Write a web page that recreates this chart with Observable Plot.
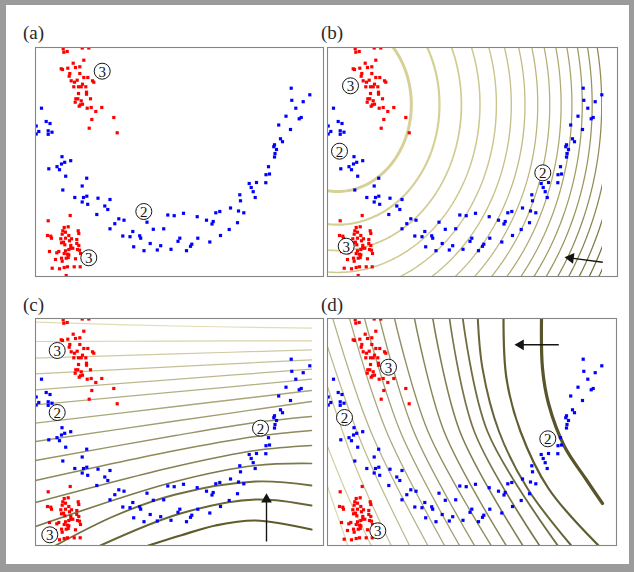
<!DOCTYPE html>
<html><head><meta charset="utf-8">
<script src="https://cdn.jsdelivr.net/npm/d3@7"></script>
<script src="https://cdn.jsdelivr.net/npm/@observablehq/plot@0.6"></script>
<style>
html,body{margin:0;padding:0;background:#fff;}
#fig{position:relative;width:634px;height:572px;background:#fff;overflow:hidden;}
#border{position:absolute;left:0;top:0;width:634px;height:572px;box-sizing:border-box;border-style:solid;border-color:#9b9b9b;border-width:5px 5px 8px 6px;pointer-events:none;}
.lab{position:absolute;font-family:"Liberation Serif","DejaVu Serif",serif;font-size:19px;line-height:1;color:#2a2a2a;}
.panel{position:absolute;}
.panel svg{overflow:visible;}
</style></head><body><div id="fig"><div id="border"></div></div>
<script>
// ---------- data (panel units: x to the right, y downward from the frame top) ----------
const blue = [[6,60.7],[0.7,78.5],[10.7,74],[14.5,76],[3.3,84],[0.7,86.5],[12.7,83.3],[12.7,86.8],[16.5,84.7],
[26.5,109.2],[21.5,119.2],[24,122.2],[26,116.5],[29.2,114.8],[35.2,113.2],[13.3,121.3],[30.2,128.7],[51.2,130.7],[46.7,138.5],[27.3,142.5],
[39.3,150],[48,150],[51.3,148.7],[46.7,154.5],[52.2,156.8],[62.5,150.7],[74.5,152],[69.3,158.5],[72.3,162],[61.3,167],
[83.3,171.3],[88.5,172.7],[79.3,176.2],[74.5,181.3],[97.3,184],[87.3,188.5],[94.5,189.2],[104.2,188.3],[105.2,190.7],
[111.5,174.7],[117.8,181.8],[128.2,181.3],[114.7,196],[125.2,198.2],[98.2,199.3],[108.5,203.2],[121.8,202.5],
[132.3,167.5],[138.7,168.2],[148,165.8],[161.7,169.2],[171,172.7],[177.7,174],[176.5,176.5],[180.3,165.3],[184.3,164],
[193.7,182],[185,188],[162.3,190.7],[144.3,190.7],[142.5,193.8],[156.3,196.7],[155,198.8],[174.3,194.5],[135.5,201.8],[151,203.2],
[195,160.5],[203,163.5],[208.3,165.3],[202,175.2],
[204.3,147.3],[205,153.3],[213.7,136],[215.7,140],[221,135],[217.7,144.2],[219.7,150],[230.3,135.2],[230.5,127.2],[234,126.5],[233,119.2],
[239,109.5],[239.5,106],[241,102],[238.3,99.2],[239,97.3],[245,91.3],[247,94.2],[243.2,77.5],[255,82],[250.5,68.7],[265.7,70],[263.7,71.3],[260.3,60.7],[256.3,52.8],[267.7,54.2],[274.3,47.3],[255.7,40.7]];

const red = [[27.7,1.3],[31.7,4],[28.3,4.7],[46.7,0.5],[53.3,0.5],[48.3,12.7],[37.7,15.7],[25.7,21.3],[27,22],[32.3,20.7],[40,20],[44.3,19.3],[34.3,26],[33.7,28.7],[44.3,26],[48.3,30],[35.7,33.3],[39,34.7],[41.7,32.7],[47,36.7],[52.3,30],[57,33.3],[58.3,34.7],[38.3,39.3],[43,39.3],[45.7,39.3],[50.3,39.3],[51,44.7],[51,46.7],[43,46],[40.3,51.3],[42.3,51.3],[39.7,54.7],[45.7,53.3],[45,57.3],[43.7,58.7],[47,56.7],[55,51.3],[51.7,60.7],[55.7,60],[66.3,60],[60.3,64],[56.3,72],[78.3,70],[53.7,80.7],[81.7,85.3],
[12.7,173.3],[34.7,168],[28.7,180],[32.7,179.3],[27.3,183.3],[30,184.7],[12,188],[15.3,188.7],[16,190.7],[26.7,186.7],[33.3,188],[42.7,183.3],[43.3,186],[25.3,191.3],[30,190.7],[36,191.3],[41.3,192],[26,195.3],[28,194.7],[34,193.3],[29.3,197.3],[35.3,198],[41.3,196],[43.3,198],[14,204],[21.3,205.3],[23.3,204],[30,203.3],[33.3,202],[35.3,200.7],[37.3,200.7],[42,202],[44,202.7],[45,206],[28.7,206],[32,206.7],[33.3,207.3],[26,210.7],[30.7,210.7],[32.7,210],[20,212],[26.7,213.7],[40,211.3],[16.7,220.7],[24,221.3],[28.7,220],[32,219.3],[38.7,219.3],[44.7,219.3],[30.7,228]];

const labelsA = [[66.7,23.7,"3"],[53.3,210.3,"3"],[108.3,164,"2"]];
const labelsB = [[23,38.3,"3"],[12,103.7,"2"],[215.3,125.3,"2"],[18.7,198.7,"3"]];
const labelsC = [[21.7,32,"3"],[21.7,94,"2"],[225,109.7,"2"],[14.3,216.3,"3"]];
const labelsD = [[61,48.7,"3"],[17,99,"2"],[220.3,120.3,"2"],[50.3,212.3,"3"]];

const arrowB = {tail:[275.3,214.7], tip:[237,209.7]};
const arrowC = {tail:[231,223], tip:[231,174.7]};
const arrowD = {tail:[231.3,26.3], tip:[187,26.3]};

// panel (b): level set field (elliptic), center, aspect and levels
const bCenter = [10, 57];
const bAspect = 0.72;
const bLevels = [5450,10400,15350,20300,25250,30200,35150,40100,45050,50000,54950,59900,64850,69800,74750,79700,84650,89600];
const gridExtent = [275, 229];

// panel (c): contour lines
const cLines = [
 [[0,3.7],[140,7.5],[276,9.7]],
 [[0,23],[140,22.6],[276,22.3]],
 [[0,39.7],[140,35.4],[276,31.3]],
 [[0,55.3],[140,48.2],[276,41.3]],
 [[0,71.3],[140,60.8],[276,50.7]],
 [[0,86.3],[140,73.4],[276,60.7]],
 [[0,104.7],[140,88],[276,72]],
 [[0,123],[140,102.5],[276,83]],
 [[0,142],[140,117],[220,104],[276,98]],
 [[0,162],[140,132],[220,118],[276,112]],
 [[0,184],[140,148],[220,132],[276,127]],
 [[0,208],[140,163],[220,147],[276,145]],
 [[20,227],[80,197],[140,176],[220,163],[276,167]],
 [[65,227],[145,195],[220,181],[276,187]],
 [[113,227],[145,217],[180,207],[220,202],[276,211]]
];

// panel (d): contour lines
const dLines = [
 [[0,168],[20.3,227]],
 [[0,128],[20.5,178],[43.7,227]],
 [[0,68],[28,148],[63.7,227]],
 [[0,28],[35,127],[82,227]],
 [[5.3,0],[43.3,113],[100.3,227]],
 [[22,0],[59,113],[117,227]],
 [[37,0],[72.8,113],[132,227]],
 [[52,0],[86.3,113],[147,227]],
 [[67,0],[100.5,113],[163.7,227]],
 [[87,0],[116.6,113],[178.7,227]],
 [[105.3,0],[132.4,113],[195.3,227]],
 [[122,0],[146.8,113],[212,227]],
 [[135.3,0],[160,113],[230.3,227]],
 [[150.3,0],[155,50],[171.5,113],[200,170],[243.7,227]],
 [[176,0],[179,60],[193,113],[221,170],[271,227]],
 [[214,0],[215,50],[221,85],[237,128],[258,160],[275,185]]
];

// ---------- drawing ----------
const fig = document.getElementById("fig");
const SERIF = "Liberation Serif, DejaVu Serif, serif";
const INK = "#151515";
const M = 3;

function pointMarks() {
  return [
    Plot.dot(blue, {x: d => d[0], y: d => d[1], symbol: "square", r: 1.8, fill: "#0000ff", stroke: "none", clip: true}),
    Plot.dot(red, {x: d => d[0], y: d => d[1], symbol: "square", r: 1.8, fill: "#ff0000", stroke: "none", clip: true})
  ];
}
function labelMarks(labs) {
  return [
    Plot.dot(labs, {x: d => d[0], y: d => d[1], r: 8, fill: "white", stroke: INK, strokeWidth: 1}),
    Plot.text(labs, {x: d => d[0], y: d => d[1], text: d => d[2], fontFamily: SERIF, fontSize: 15, fill: INK, dy: 0.5})
  ];
}
function arrowMarks(a) {
  const dx = a.tip[0] - a.tail[0], dy = a.tip[1] - a.tail[1];
  const len = Math.hypot(dx, dy), ux = dx / len, uy = dy / len;
  const angle = Math.atan2(dx, -dy) * 180 / Math.PI;
  const head = [a.tip[0] - ux * 6.2, a.tip[1] - uy * 6.2];
  const shaftEnd = [a.tip[0] - ux * 7, a.tip[1] - uy * 7];
  return [
    Plot.link([a], {x1: d => d.tail[0], y1: d => d.tail[1], x2: () => shaftEnd[0], y2: () => shaftEnd[1], stroke: INK, strokeWidth: 1.4}),
    Plot.dot([a], {x: () => head[0], y: () => head[1], symbol: "triangle", r: 4, fill: INK, stroke: "none", rotate: angle})
  ];
}
function lineMarks(lines, light, dark, widthFn, gamma = 1) {
  const interp = d3.interpolateRgb(light, dark);
  const n = lines.length;
  return lines.map((pts, i) => Plot.line(pts, {
    x: d => d[0], y: d => d[1],
    stroke: interp(Math.pow(i / (n - 1), gamma)),
    strokeWidth: widthFn(i, n),
    curve: "catmull-rom", clip: true
  }));
}
function layer(left, top, W, H, marks, withFrame) {
  const svg = Plot.plot({
    width: W + 2 * M, height: H + 2 * M,
    marginTop: M, marginRight: M, marginBottom: M, marginLeft: M,
    x: {domain: [0, W], axis: null},
    y: {domain: [0, H], reverse: true, axis: null},
    style: {background: "transparent"},
    marks: withFrame ? [...marks, Plot.frame({stroke: "#858585", strokeWidth: 1.1})] : marks
  });
  const div = document.createElement("div");
  div.className = "panel";
  div.style.left = (left - M) + "px";
  div.style.top = (top - M) + "px";
  div.append(svg);
  fig.append(div);
}
function label(text, left, top) {
  const d = document.createElement("div");
  d.className = "lab";
  d.textContent = text;
  d.style.left = left + "px";
  d.style.top = top + "px";
  fig.append(d);
}

// (a)
layer(35, 47, 288, 229, [...pointMarks(), ...labelMarks(labelsA)], true);

// (b): contours sampled on a grid wider than the drawn area, clipped to the grid extent
const bInterp = d3.interpolateRgb("#d6d197", "#75723d");
const bField = (x, y) => (x - bCenter[0]) ** 2 + bAspect * (y - bCenter[1]) ** 2;
const bMarks = bLevels.map((L, k) => Plot.contour(undefined, {
  x1: -40, y1: -40, x2: gridExtent[0] + 60, y2: gridExtent[1] + 40,
  value: bField, thresholds: [L],
  stroke: bInterp(Math.pow(Math.min(1, k / 16), 1.5)),
  strokeWidth: 1.25 + 1.75 * Math.exp(-k / 1.6),
  fill: "none", clip: true
}));
layer(327, 47, gridExtent[0], gridExtent[1], bMarks, false);
layer(327, 47, 290, 229, [...pointMarks(), ...labelMarks(labelsB), ...arrowMarks(arrowB)], true);

// (c)
const cMarks = lineMarks(cLines, "#e0ddb3", "#5f5c2c", (i, n) => 1.2 + 1.0 * Math.pow(i / (n - 1), 3));
layer(35, 318, 288, 227, [...cMarks, ...pointMarks(), ...labelMarks(labelsC), ...arrowMarks(arrowC)], true);

// (d)
const dMarks = lineMarks(dLines, "#dcd9ab", "#58552a", (i, n) => i === n - 1 ? 3.2 : 1.2 + 1.0 * Math.pow(i / (n - 2), 3), 0.9);
layer(327, 318, 289, 227, [...dMarks, ...pointMarks(), ...labelMarks(labelsD), ...arrowMarks(arrowD)], true);

label("(a)", 23, 23);
label("(b)", 321, 23);
label("(c)", 23, 295);
label("(d)", 321, 295);
</script>
</body></html>
